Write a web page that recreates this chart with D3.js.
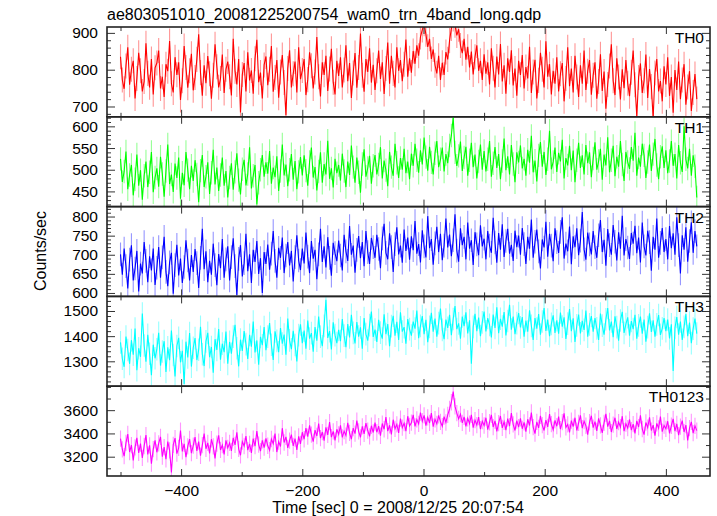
<!DOCTYPE html>
<html><head><meta charset="utf-8">
<script src="https://cdn.jsdelivr.net/npm/d3@7"></script>
<style>
body{margin:0;background:#fff}
svg{display:block}
text{font-family:"Liberation Sans",Arial,Helvetica,sans-serif;fill:#000}
</style>
</head><body>
<svg id="c" width="717" height="516"></svg>
<script>
const title = "ae803051010_20081225200754_wam0_trn_4band_long.qdp";
const xLabel = "Time [sec] 0 = 2008/12/25 20:07:54";
const yLabel = "Counts/sec";
const bandNames = ["TH0","TH1","TH2","TH3","TH0123"];
const timeStart = -500, binSize = 3;
const xTickValues = [-400,-200,0,200,400];
const xMinorTicks = [-500,-300,-100,100,300];

const th0 = [
835,772,748,810,861,759,801,824,722,776,846,797,741,768,872,790,752,829,733,805,
818,852,749,781,726,815,796,878,762,738,834,786,820,718,770,864,806,751,797,843,
744,779,828,896,792,729,812,763,837,789,721,785,869,808,752,776,841,737,801,822,
781,730,884,796,760,829,684,787,818,741,847,771,798,735,830,881,766,792,722,813,
836,758,801,864,740,779,826,724,794,840,765,676,803,853,752,789,822,738,861,774,
798,829,731,773,847,811,749,794,889,781,727,820,786,838,742,802,857,766,733,824,
783,834,752,799,866,769,818,723,791,845,751,806,898,785,740,829,794,858,765,813,
745,797,852,775,820,734,803,874,762,838,790,752,861,797,826,769,815,882,781,831,
792,851,816,866,838,889,908,925,896,862,884,829,855,812,790,838,772,819,786,848,
828,879,912,938,921,893,910,866,845,884,827,862,806,849,787,835,866,797,824,772,
842,789,820,760,858,804,752,836,787,870,768,812,735,831,794,853,757,803,729,824,
786,840,749,807,776,862,737,794,827,722,771,846,801,752,877,781,815,733,797,762,
834,741,789,818,714,776,861,755,803,738,838,780,726,812,762,852,745,796,826,732,
785,820,721,768,842,742,795,694,760,810,869,770,731,831,780,719,801,750,826,763,
728,793,852,759,672,779,817,737,770,841,723,802,754,668,791,829,741,769,714,809,
760,834,729,780,683,799,745,822,720,772,815,705,753,796,688,738,788,720];

const th1 = [
525,472,496,542,455,488,511,441,478,535,463,499,431,486,519,460,494,541,448,482,
503,461,530,490,438,497,558,467,489,449,514,481,528,433,493,464,541,499,455,509,
474,522,489,425,498,534,460,484,517,444,493,546,466,505,451,488,528,463,497,436,
482,515,454,495,538,476,443,501,523,464,490,552,457,486,511,420,470,500,534,484,
517,491,543,468,505,483,531,451,497,558,487,512,462,500,536,477,520,455,495,529,
487,533,498,463,518,551,482,506,452,496,540,470,513,489,567,479,503,459,525,492,
511,475,537,497,460,519,488,556,506,470,528,494,447,513,547,484,504,532,468,509,
534,489,512,552,480,521,499,462,541,506,486,560,516,481,527,500,548,492,519,478,
537,509,560,522,493,545,512,574,529,498,553,517,489,538,566,506,524,551,496,536,
515,556,579,621,540,509,532,565,497,528,553,486,522,562,506,535,480,519,558,500,
543,496,524,566,484,515,552,504,536,478,520,572,499,531,489,557,513,471,540,517,
556,503,525,486,546,516,578,494,521,473,533,564,507,541,488,524,590,501,518,551,
495,539,519,569,480,527,510,555,499,544,471,522,562,504,533,489,557,515,540,483,
526,563,500,520,548,477,535,510,575,494,522,555,485,530,507,566,512,474,541,518,
502,552,521,585,486,528,507,560,533,481,518,558,497,536,571,511,478,530,554,504,
545,492,520,566,509,536,480,557,516,495,600,524,503,548,486,533,508,436];

const th2 = [
701,648,716,670,612,687,725,633,664,710,604,677,651,733,684,628,696,659,716,621,
666,720,640,693,747,655,618,680,705,598,673,726,646,690,626,668,738,685,633,699,
655,715,678,613,692,768,662,709,628,684,648,729,673,620,702,665,741,640,688,722,
633,694,743,670,595,689,725,643,678,755,657,701,626,713,681,736,650,691,600,707,
676,727,661,703,762,684,640,718,692,745,652,698,733,672,710,630,694,751,685,660,
716,677,758,695,652,736,690,713,636,701,768,681,722,667,746,692,645,731,704,683,
737,698,659,752,709,684,775,700,724,653,713,749,691,733,670,762,707,676,744,720,
692,752,715,665,743,781,705,688,756,720,655,728,772,701,724,679,766,710,745,687,
748,712,788,703,728,680,764,722,693,801,717,741,674,730,773,707,755,686,724,795,
719,753,696,738,806,711,682,769,725,747,688,784,716,738,673,759,727,699,777,722,
742,688,762,724,705,797,732,679,757,713,780,694,736,768,703,726,684,763,720,750,
700,770,728,676,747,716,792,692,734,766,709,664,740,719,786,695,755,724,683,769,
733,705,760,798,690,729,709,774,675,748,720,769,699,737,812,714,687,758,727,701,
762,720,692,751,791,707,739,671,767,725,700,778,734,685,759,716,802,698,741,719,
689,757,729,776,704,745,680,784,722,698,763,733,658,747,713,795,692,731,770,707,
741,688,775,717,756,700,798,725,651,751,713,772,682,736,785,705,762,722];

const th3 = [
1375,1310,1278,1398,1345,1290,1384,1326,1430,1265,1352,1318,1490,1363,1298,1405,1330,1245,1366,1312,
1348,1413,1283,1339,1380,1258,1356,1304,1422,1325,1240,1361,1393,1296,1342,1210,1378,1315,1412,1279,
1354,1392,1305,1346,1437,1328,1281,1379,1413,1316,1357,1255,1388,1345,1428,1306,1370,1336,1418,1290,
1377,1330,1398,1445,1352,1280,1386,1341,1420,1368,1309,1405,1358,1458,1335,1383,1286,1397,1364,1436,
1344,1398,1452,1366,1305,1419,1381,1336,1432,1370,1406,1326,1470,1383,1348,1421,1365,1299,1404,1447,
1372,1422,1350,1462,1390,1412,1338,1436,1382,1478,1398,1360,1441,1545,1393,1420,1347,1455,1404,1372,
1425,1380,1468,1402,1356,1448,1395,1485,1413,1371,1456,1398,1435,1350,1472,1408,1382,1444,1498,1397,
1426,1377,1465,1414,1390,1487,1408,1448,1360,1440,1481,1402,1457,1385,1495,1418,1436,1370,1468,1428,
1402,1458,1430,1502,1392,1441,1480,1408,1465,1376,1437,1493,1418,1470,1398,1452,1510,1425,1388,1466,
1433,1485,1404,1468,1520,1428,1451,1390,1478,1440,1495,1411,1463,1290,1437,1489,1420,1474,1400,1455,
1498,1419,1472,1445,1395,1486,1433,1515,1412,1469,1438,1496,1403,1460,1525,1426,1478,1408,1452,1492,
1435,1476,1398,1462,1418,1503,1441,1385,1472,1430,1488,1406,1458,1512,1421,1466,1400,1449,1483,1413,
1463,1410,1494,1438,1475,1389,1450,1508,1420,1471,1377,1443,1486,1411,1461,1425,1502,1398,1447,1480,
1418,1472,1431,1385,1490,1442,1406,1467,1512,1423,1458,1396,1479,1436,1382,1462,1497,1413,1448,1475,
1402,1460,1428,1485,1390,1443,1478,1410,1466,1378,1436,1491,1417,1463,1398,1447,1484,1405,1431,1472,
1420,1466,1391,1447,1262,1433,1476,1406,1458,1385,1437,1488,1400,1454,1372,1430,1470,1410];

const th0123 = [
3355,3262,3205,3318,3395,3240,3300,3168,3280,3362,3232,3312,3190,3292,3386,3220,3298,3140,3265,3340,
3238,3315,3370,3200,3282,3178,3330,3255,3065,3302,3360,3226,3275,3425,3246,3310,3196,3288,3352,3230,
3296,3368,3250,3330,3208,3300,3398,3268,3318,3228,3350,3288,3186,3312,3384,3258,3300,3220,3340,3276,
3318,3250,3362,3302,3410,3268,3212,3330,3292,3378,3256,3310,3232,3356,3290,3420,3304,3248,3340,3278,
3358,3294,3256,3352,3312,3398,3240,3330,3288,3445,3322,3370,3276,3338,3390,3292,3356,3258,3375,3310,
3410,3350,3446,3372,3470,3390,3330,3428,3378,3485,3360,3412,3338,3452,3388,3498,3368,3418,3340,3436,
3392,3470,3366,3420,3382,3492,3405,3350,3445,3398,3510,3418,3366,3460,3396,3488,3425,3375,3466,3408,
3492,3410,3462,3380,3485,3436,3540,3420,3470,3392,3518,3440,3478,3405,3528,3450,3488,3420,3548,3465,
3492,3560,3460,3520,3482,3580,3505,3555,3466,3538,3490,3575,3458,3522,3482,3555,3500,3462,3545,3494,
3560,3610,3668,3760,3632,3575,3525,3566,3490,3542,3460,3530,3484,3560,3450,3515,3472,3540,3436,3505,
3468,3535,3432,3496,3560,3455,3508,3418,3488,3550,3448,3500,3428,3528,3462,3575,3478,3425,3510,3455,
3530,3440,3495,3415,3522,3468,3580,3455,3398,3500,3448,3552,3472,3425,3515,3456,3566,3480,3432,3512,
3462,3545,3436,3498,3572,3452,3478,3408,3510,3458,3535,3425,3490,3555,3445,3505,3466,3390,3496,3552,
3450,3502,3422,3530,3470,3405,3490,3568,3458,3508,3412,3475,3535,3438,3498,3455,3548,3420,3484,3446,
3520,3428,3480,3400,3508,3455,3555,3438,3390,3494,3450,3538,3425,3472,3380,3486,3444,3545,3415,3468,
3440,3505,3400,3466,3525,3420,3482,3385,3458,3510,3412,3472,3340,3445,3500,3402,3465,3424];

const errors = [34, 27, 31, 45, 70];
const yDomains = [[672,916],[415,622],[591,826],[1201,1558],[3034,3806]];
const yTickValues = [[700,800,900],[450,500,550,600],[600,650,700,750,800],[1300,1400,1500],[3200,3400,3600]];
const yMinorStep = [20,10,10,20,100];

const series = [th0, th1, th2, th3, th0123];
const colors = ["#ff0000","#00ff00","#0000ff","#00ffff","#ff00ff"];

const L = 107, R = 710, T = 27, PH = 89.8;
const svg = d3.select("#c");

const x = d3.scaleLinear().domain([-522.3, 472.8]).range([L, R]);

series.forEach((vals, i) => {
  const top = T + i * PH, bot = top + PH;
  const y = d3.scaleLinear().domain(yDomains[i]).range([bot, top]);
  const data = vals.map((v, k) => ({t: timeStart + k * binSize, v}));

  svg.append("clipPath").attr("id", "clip" + i)
    .append("rect").attr("x", L).attr("y", top).attr("width", R - L).attr("height", PH);

  const dg = svg.append("g").attr("clip-path", `url(#clip${i})`);
  dg.selectAll("line.err").data(data).join("line").attr("class", "err")
    .attr("x1", d => x(d.t)).attr("x2", d => x(d.t))
    .attr("y1", d => y(d.v - errors[i])).attr("y2", d => y(d.v + errors[i]))
    .attr("stroke", colors[i]).attr("stroke-opacity", 0.42).attr("stroke-width", 1.1);
  dg.append("path").datum(data)
    .attr("d", d3.line().x(d => x(d.t)).y(d => y(d.v)))
    .attr("fill", "none").attr("stroke", colors[i]).attr("stroke-width", 1.1);

  const [y0, y1] = yDomains[i];
  const minors = d3.range(Math.ceil(y0 / yMinorStep[i]) * yMinorStep[i], y1, yMinorStep[i])
    .filter(v => !yTickValues[i].includes(v));
  const ax = svg.append("g").attr("class", "axis");
  ax.append("g").attr("transform", `translate(${L},0)`)
    .call(d3.axisLeft(y).tickValues(yTickValues[i]).tickSize(-8).tickPadding(9).tickFormat(d3.format("d")));
  ax.append("g").attr("transform", `translate(${L},0)`)
    .call(d3.axisLeft(y).tickValues(minors).tickSize(-4).tickFormat(""));
  ax.append("g").attr("transform", `translate(${R},0)`)
    .call(d3.axisRight(y).tickValues(yTickValues[i]).tickSize(-8).tickFormat(""));
  ax.append("g").attr("transform", `translate(${R},0)`)
    .call(d3.axisRight(y).tickValues(minors).tickSize(-4).tickFormat(""));
  ax.append("g").attr("transform", `translate(0,${top})`)
    .call(d3.axisTop(x).tickValues(xTickValues).tickSize(-7).tickFormat(""));
  ax.append("g").attr("transform", `translate(0,${top})`)
    .call(d3.axisTop(x).tickValues(xMinorTicks).tickSize(-4).tickFormat(""));
  ax.append("g").attr("transform", `translate(0,${bot})`)
    .call(d3.axisBottom(x).tickValues(xTickValues).tickSize(-7).tickPadding(9)
      .tickFormat(i === series.length - 1 ? d3.format("d") : ""));
  ax.append("g").attr("transform", `translate(0,${bot})`)
    .call(d3.axisBottom(x).tickValues(xMinorTicks).tickSize(-4).tickFormat(""));

  svg.append("rect").attr("x", L).attr("y", top).attr("width", R - L).attr("height", PH)
    .attr("fill", "none").attr("stroke", "#222").attr("stroke-width", 1.6);

  svg.append("text").attr("x", 704).attr("y", top + 16).attr("text-anchor", "end")
    .style("font-size", "15.5px").text(bandNames[i]);
});

svg.selectAll(".axis path.domain").remove();
svg.selectAll(".axis line").attr("stroke", "#333").attr("stroke-width", 1);
svg.selectAll(".axis text").style("font-size", "15.5px").style("font-family", "'Liberation Sans',Arial,sans-serif").attr("fill", "#000");

svg.append("text").attr("x", 107).attr("y", 20).style("font-size", "16px").text(title);
svg.append("text").attr("x", 398).attr("y", 513).attr("text-anchor", "middle").style("font-size", "16px").text(xLabel);
svg.append("text").attr("transform", "translate(46,251) rotate(-90)").attr("text-anchor", "middle")
  .style("font-size", "16px").text(yLabel);
</script>
</body></html>
